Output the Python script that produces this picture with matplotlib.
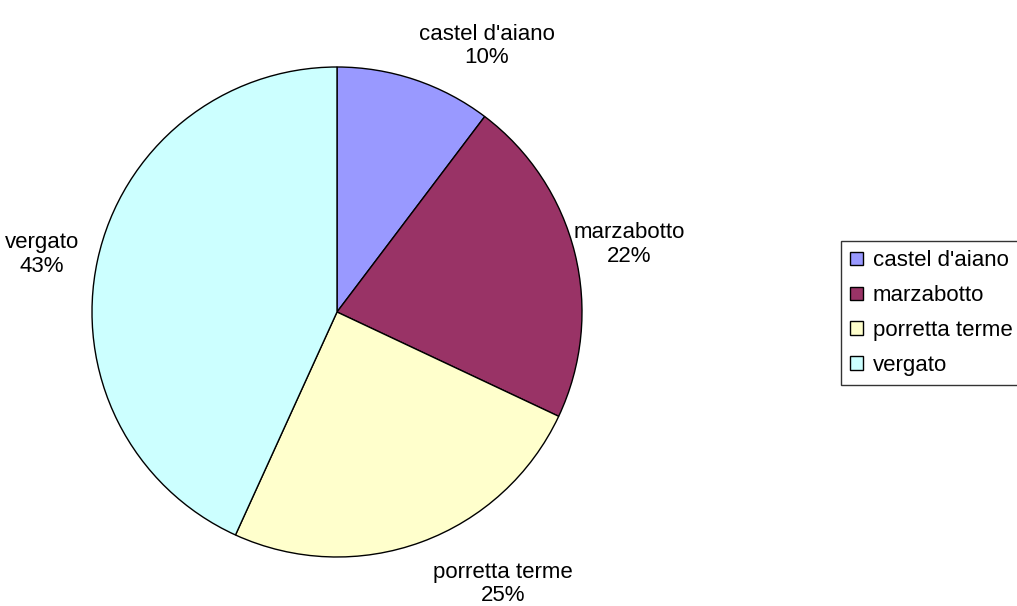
import matplotlib
matplotlib.use("Agg")
import matplotlib.pyplot as plt

towns = ["castel d'aiano", "marzabotto", "porretta terme", "vergato"]
shares = [10.3, 21.7, 24.8, 43.2]
pct_labels = ["10%", "22%", "25%", "43%"]
colors = ["#9999FF", "#993366", "#FFFFCC", "#CCFFFF"]

# label centres in pie data units (radius = 1)
label_pos = [(0.612, 1.085), (1.192, 0.275), (0.678, -1.11), (-1.204, 0.235)]

plt.rcParams['font.family'] = ['Liberation Sans', 'DejaVu Sans']

W, H = 1017, 606
fig = plt.figure(figsize=(W / 100, H / 100), dpi=100)
cx, cy, r = 337, 312, 245
ax = fig.add_axes([(cx - r) / W, (H - cy - r) / H, 2 * r / W, 2 * r / H])

wedges, _ = ax.pie(shares, colors=colors, startangle=90, counterclock=False,
                   radius=1, wedgeprops=dict(edgecolor='black', linewidth=1))
ax.set_xlim(-1, 1)
ax.set_ylim(-1, 1)
ax.set_aspect('equal')
ax.axis('off')

for name, pct, (x, y) in zip(towns, pct_labels, label_pos):
    ax.text(x, y, f"{name}\n{pct}", ha='center', va='center', fontsize=16,
            linespacing=1.15, clip_on=False)

leg = fig.legend(wedges, towns, loc='upper left',
                 bbox_to_anchor=(841 / W, 1 - 241 / H), fontsize=16,
                 frameon=True, fancybox=False, edgecolor='black',
                 handlelength=0.55, handleheight=0.55, handletextpad=0.45,
                 labelspacing=0.62, borderpad=0.42, borderaxespad=0)
leg.get_frame().set_linewidth(1)
for h in leg.legend_handles:
    h.set_edgecolor('black')
    h.set_linewidth(1)

fig.savefig("out.png", dpi=100)
